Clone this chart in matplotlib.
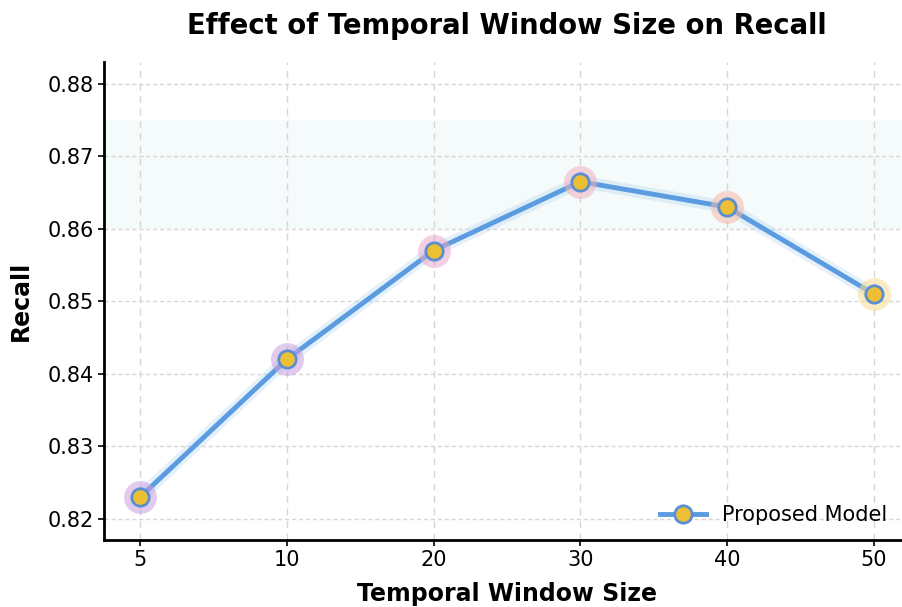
import matplotlib
matplotlib.use("Agg")
import matplotlib.pyplot as plt
import numpy as np

window_sizes = ["5", "10", "20", "30", "40", "50"]
recall = [0.823, 0.842, 0.857, 0.8665, 0.863, 0.851]
halo_colors = ["#c9a0e0", "#c9a0e0", "#e8a8d0", "#f0b0c0", "#f5b8a8", "#f8dc90"]
band = (0.860, 0.875)

fig = plt.figure(figsize=(9.02, 6.07), dpi=100)
ax = fig.add_axes([104/902, 1-540/607, (902-104)/902, (540-62)/607])

x = np.arange(len(window_sizes))
ax.axhspan(band[0], band[1], color="#e6f4f4", alpha=0.4, zorder=0, lw=0)

# glow under line
ax.plot(x, recall, color="#a8d0f0", lw=9, alpha=0.3, zorder=2, solid_capstyle="round")
ax.plot(x, recall, color="#5b9be0", lw=3.5, zorder=3)
# halos
for xi, yi, c in zip(x, recall, halo_colors):
    ax.scatter([xi], [yi], s=560, color=c, alpha=0.55, zorder=4, lw=0)
ax.plot(x, recall, ls="none", marker="o", ms=12.5, mfc="#ecbf35", mec="#5b8fd0",
        mew=2, zorder=5)
# legend handle
ax.plot([], [], color="#5b9be0", lw=3.5, marker="o", ms=12.5, mfc="#ecbf35",
        mec="#5b8fd0", mew=2, label="Proposed Model")

ax.set_xticks(x)
ax.set_xticklabels(window_sizes)
ax.set_xlim(-0.245, 5.19)
ax.set_ylim(0.8171, 0.8830)
ax.set_yticks([0.82, 0.83, 0.84, 0.85, 0.86, 0.87, 0.88])
ax.tick_params(labelsize=15, length=4, width=1.2)

ax.xaxis.grid(True, color="#d6d6d6", lw=1, dashes=(5, 4))
ax.yaxis.grid(True, color="#d6d6d6", lw=1, dashes=(3, 2))
ax.set_axisbelow(True)
for s in ["top", "right"]:
    ax.spines[s].set_visible(False)
for s in ["left", "bottom"]:
    ax.spines[s].set_linewidth(2)

ax.set_xlabel("Temporal Window Size", fontsize=17, fontweight="bold")
ax.xaxis.set_label_coords((507-104)/798, -(594-540)/478)
ax.xaxis.label.set_va("center")
ax.set_ylabel("Recall", fontsize=17, fontweight="bold", labelpad=10)
fig.text(507/902, 1-26/607, "Effect of Temporal Window Size on Recall",
         fontsize=19.8, fontweight="bold", ha="center", va="center")

ax.legend(loc="lower right", frameon=False, fontsize=15, handlelength=2.2,
          borderaxespad=0.3)

fig.savefig("out.png", dpi=100)
